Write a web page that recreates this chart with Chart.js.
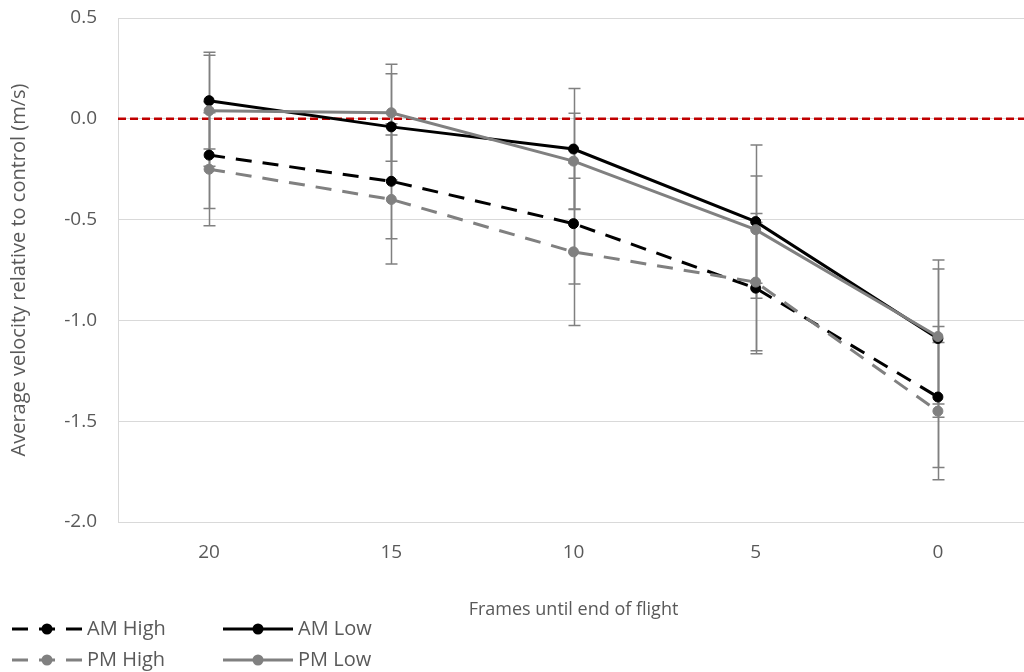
<!DOCTYPE html>
<html>
<head>
<meta charset="utf-8">
<script src="https://cdn.jsdelivr.net/npm/chart.js@4.4.1/dist/chart.umd.min.js"></script>
<style>
  html, body { margin: 0; padding: 0; background: #ffffff; overflow: hidden; width: 1024px; height: 672px; }
  #wrap { width: 1031px; height: 672px; }
  canvas { display: block; }
</style>
</head>
<body>
<div id="wrap"><canvas id="chart" width="1031" height="672" style="width:1031px;height:672px"></canvas></div>
<script>
// Frames remaining before the end of the flight
const frames = ['20', '15', '10', '5', '0'];

// Mean velocity relative to control (m/s)
const amHigh = [-0.18, -0.31, -0.52, -0.84, -1.38];
const amLow  = [ 0.09, -0.04, -0.15, -0.51, -1.09];
const pmHigh = [-0.25, -0.40, -0.66, -0.81, -1.45];
const pmLow  = [ 0.04,  0.03, -0.21, -0.55, -1.08];

// Error bar half-lengths (m/s)
const amHighErr = [0.265, 0.285, 0.300, 0.325, 0.350];
const amLowErr  = [0.240, 0.263, 0.300, 0.380, 0.390];
const pmHighErr = [0.280, 0.320, 0.365, 0.340, 0.340];
const pmLowErr  = [0.275, 0.240, 0.237, 0.266, 0.335];

// Value axis ticks
const yTicks = [0.5, 0.0, -0.5, -1.0, -1.5, -2.0];
const controlLevel = 0;

const BLACK = '#000000';
const GREY = '#808080';
const TEXT = '#595959';
const FONT = "'Open Sans', 'Noto Sans', sans-serif";
const DASH = [16, 11];

function series(label, data, errors, color, dashed, order) {
  return {
    label, data, errors, order,
    borderColor: color,
    backgroundColor: color,
    borderWidth: 3,
    borderDash: dashed ? DASH : [],
    pointRadius: 5,
    pointHoverRadius: 5,
    pointBorderWidth: 1,
    pointBorderColor: color,
    pointBackgroundColor: color,
    tension: 0,
    fill: false,
    clip: 20
  };
}

// Dashed reference line at the control level
const controlLine = {
  id: 'controlLine',
  beforeDatasetsDraw(chart) {
    const { ctx, chartArea, scales } = chart;
    const y = scales.y.getPixelForValue(controlLevel);
    ctx.save();
    ctx.strokeStyle = '#c00000';
    ctx.lineWidth = 2.5;
    ctx.setLineDash([8, 4]);
    ctx.beginPath();
    ctx.moveTo(chartArea.left, y);
    ctx.lineTo(chartArea.right, y);
    ctx.stroke();
    ctx.restore();
  }
};

// Vertical error bars with caps for every point
const errorBars = {
  id: 'errorBars',
  beforeDatasetsDraw(chart) {
    const { ctx, scales } = chart;
    ctx.save();
    ctx.strokeStyle = GREY;
    ctx.lineWidth = 1.5;
    ctx.setLineDash([]);
    chart.data.datasets.forEach((ds, di) => {
      const meta = chart.getDatasetMeta(di);
      meta.data.forEach((pt, i) => {
        const v = ds.data[i];
        const e = ds.errors[i];
        const x = Math.round(pt.x) + 0.5;
        const yTop = scales.y.getPixelForValue(v + e);
        const yBot = scales.y.getPixelForValue(v - e);
        ctx.beginPath();
        ctx.moveTo(x, yTop);
        ctx.lineTo(x, yBot);
        ctx.moveTo(x - 6, yTop);
        ctx.lineTo(x + 6, yTop);
        ctx.moveTo(x - 6, yBot);
        ctx.lineTo(x + 6, yBot);
        ctx.stroke();
      });
    });
    ctx.restore();
  }
};

// Two-column legend in the lower left corner
const bottomLegend = {
  id: 'bottomLegend',
  afterDraw(chart) {
    const { ctx } = chart;
    const slots = [
      { ds: 0, x: 12,  y: 629 },
      { ds: 1, x: 223, y: 629 },
      { ds: 2, x: 12,  y: 660 },
      { ds: 3, x: 223, y: 660 }
    ];
    ctx.save();
    slots.forEach(s => {
      const ds = chart.data.datasets[s.ds];
      const w = 70;
      ctx.strokeStyle = ds.borderColor;
      ctx.lineWidth = ds.borderWidth;
      ctx.setLineDash(ds.borderDash);
      ctx.beginPath();
      ctx.moveTo(s.x, s.y);
      ctx.lineTo(s.x + w, s.y);
      ctx.stroke();
      ctx.setLineDash([]);
      ctx.fillStyle = ds.pointBackgroundColor;
      ctx.beginPath();
      ctx.arc(s.x + w / 2, s.y, ds.pointRadius + 0.5, 0, Math.PI * 2);
      ctx.fill();
      ctx.fillStyle = TEXT;
      ctx.font = '20px ' + FONT;
      ctx.textBaseline = 'middle';
      ctx.textAlign = 'left';
      ctx.fillText(ds.label, s.x + w + 5, s.y);
    });
    ctx.restore();
  }
};

new Chart(document.getElementById('chart'), {
  type: 'line',
  data: {
    labels: frames,
    datasets: [
      series('AM High', amHigh, amHighErr, BLACK, true, 4),
      series('AM Low', amLow, amLowErr, BLACK, false, 3),
      series('PM High', pmHigh, pmHighErr, GREY, true, 2),
      series('PM Low', pmLow, pmLowErr, GREY, false, 1)
    ]
  },
  options: {
    responsive: false,
    animation: false,
    devicePixelRatio: 1,
    layout: {
      autoPadding: false,
      padding: { top: 18, right: 2, bottom: 51, left: 0 }
    },
    plugins: {
      legend: { display: false },
      tooltip: { enabled: false }
    },
    scales: {
      x: {
        type: 'category',
        offset: true,
        grid: { display: false, drawTicks: false },
        border: { display: false },
        ticks: { color: TEXT, font: { family: FONT, size: 19 }, padding: 19 },
        title: {
          display: true,
          text: 'Frames until end of flight',
          color: TEXT,
          font: { family: FONT, size: 18 },
          padding: { top: 22, bottom: 0 }
        },
        afterFit(scale) {
          scale.height = 99;
          scale.paddingLeft = 0;
          scale.paddingRight = 0;
        }
      },
      y: {
        min: -2,
        max: 0.5,
        afterBuildTicks(scale) { scale.ticks = yTicks.map(v => ({ value: v })); },
        grid: { color: '#d9d9d9', lineWidth: 1, drawTicks: false },
        border: { display: true, color: '#d9d9d9', width: 1 },
        ticks: {
          color: TEXT,
          font: { family: FONT, size: 19 },
          padding: 21,
          callback: v => Number(v).toFixed(1)
        },
        title: {
          display: true,
          text: 'Average velocity relative to control (m/s)',
          color: TEXT,
          font: { family: FONT, size: 20 },
          padding: { top: 7, bottom: 0 }
        },
        afterFit(scale) {
          scale.width = 118;
          scale.paddingTop = 0;
          scale.paddingBottom = 0;
        }
      }
    }
  },
  plugins: [controlLine, errorBars, bottomLegend]
});
</script>
</body>
</html>
